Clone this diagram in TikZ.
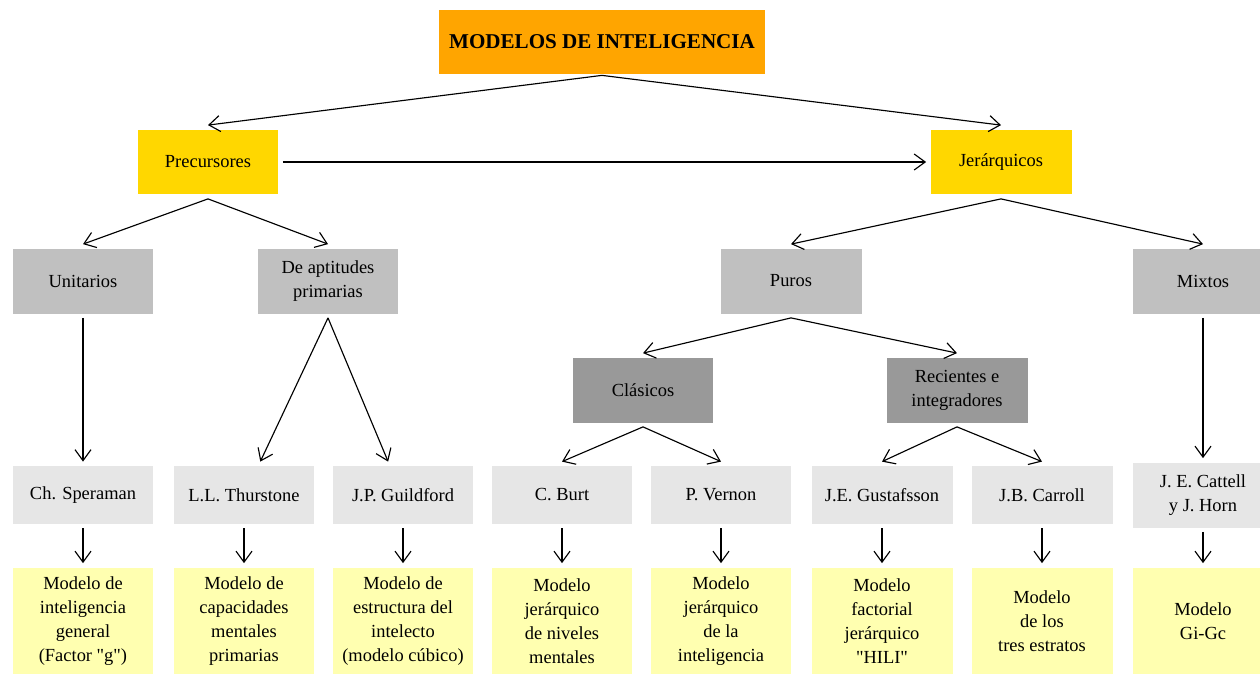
\documentclass[tikz,border=0pt]{standalone}
\usepackage{fontspec}
\setmainfont{Liberation Serif}
\usetikzlibrary{arrows.meta}
\definecolor{orangetop}{RGB}{255,165,0}
\definecolor{goldbox}{RGB}{255,215,0}
\definecolor{midgray}{RGB}{192,192,192}
\definecolor{darkgray}{RGB}{153,153,153}
\definecolor{lightgray}{RGB}{230,230,230}
\definecolor{paleyellow}{RGB}{255,255,176}

\begin{document}
\begin{tikzpicture}[x=0.02cm,y=-0.02cm,font=\fontsize{10.5}{13.6}\selectfont]
\tikzstyle{box}=[inner sep=0,outer sep=2.5pt,align=center,minimum width=2.82cm]
\tikzstyle{title box}=[box,fill=orangetop,outer sep=0.5pt,minimum width=6.54cm,minimum height=1.3cm,font=\fontsize{12}{14}\selectfont\bfseries]
\tikzstyle{level box}=[box,fill=goldbox,minimum height=1.3cm]
\tikzstyle{type box}=[box,fill=midgray,minimum height=1.3cm]
\tikzstyle{sub box}=[box,fill=darkgray,minimum height=1.3cm]
\tikzstyle{author box}=[box,fill=lightgray,minimum height=1.16cm]
\tikzstyle{model box}=[box,fill=paleyellow,minimum height=2.14cm]
\tikzstyle{arrow}=[-{Straight Barb[length=2.2mm,width=3.2mm]},line width=0.65pt]

\useasboundingbox (0,0) rectangle (1260,673);

% top levels
\node(title)[title box] at (602,42) {MODELOS DE INTELIGENCIA};
\node(prec)[level box] at (208,162) {Precursores};
\node(jer)[level box] at (1001,162) {Jerárquicos};

\node(unit)[type box] at (83,281) {Unitarios};
\node(apt)[type box] at (328,281) {De aptitudes\\primarias};
\node(puros)[type box] at (791,281) {Puros};
\node(mixt)[type box] at (1203,281) {Mixtos};

\node(clas)[sub box] at (643,390) {Clásicos};
\node(rec)[sub box] at (957,390) {Recientes e\\integradores};

% authors
\node(spe)[author box] at (83,495) {Ch. Speraman};
\node(thu)[author box] at (244,495) {L.L. Thurstone};
\node(gui)[author box] at (403,495) {J.P. Guildford};
\node(bur)[author box] at (562,495) {C. Burt};
\node(ver)[author box] at (721,495) {P. Vernon};
\node(gus)[author box] at (882,495) {J.E. Gustafsson};
\node(car)[author box] at (1042,495) {J.B. Carroll};
\node(cat)[author box,minimum height=1.3cm] at (1203,495) {J. E. Cattell\\y J. Horn};

% models
\node(m1)[model box] at (83,621) {Modelo de\\inteligencia\\general\\(Factor \textquotedbl g\textquotedbl)};
\node(m2)[model box] at (244,621) {Modelo de\\capacidades\\mentales\\primarias};
\node(m3)[model box] at (403,621) {Modelo de\\estructura del\\intelecto\\(modelo cúbico)};
\node(m4)[model box] at (562,621) {Modelo\\jerárquico\\de niveles\\mentales};
\node(m5)[model box] at (721,621) {Modelo\\jerárquico\\de la\\inteligencia};
\node(m6)[model box] at (882,621) {Modelo\\factorial\\jerárquico\\\textquotedbl HILI\textquotedbl};
\node(m7)[model box] at (1042,621) {Modelo\\de los\\tres estratos};
\node(m8)[model box] at (1203,621) {Modelo\\Gi-Gc};

% connectors
\draw[arrow] (title.south) -- (prec.north);
\draw[arrow] (title.south) -- (jer.north);
\draw[arrow] (prec.east) -- (jer.west);
\draw[arrow] (prec.south) -- (unit.north);
\draw[arrow] (prec.south) -- (apt.north);
\draw[arrow] (jer.south) -- (puros.north);
\draw[arrow] (jer.south) -- (mixt.north);
\draw[arrow] (unit.south) -- (spe.north);
\draw[arrow] (apt.south) -- (thu.64);
\draw[arrow] (apt.south) -- (gui.114);
\draw[arrow] (puros.south) -- (clas.north);
\draw[arrow] (puros.south) -- (rec.north);
\draw[arrow] (clas.south) -- (bur.north);
\draw[arrow] (clas.south) -- (ver.north);
\draw[arrow] (rec.south) -- (gus.north);
\draw[arrow] (rec.south) -- (car.north);
\draw[arrow] (mixt.south) -- (cat.north);
\foreach \a/\m in {spe/m1,thu/m2,gui/m3,bur/m4,ver/m5,gus/m6,car/m7,cat/m8}
    \draw[arrow] (\a.south) -- (\m.north);

\end{tikzpicture}
\end{document}
